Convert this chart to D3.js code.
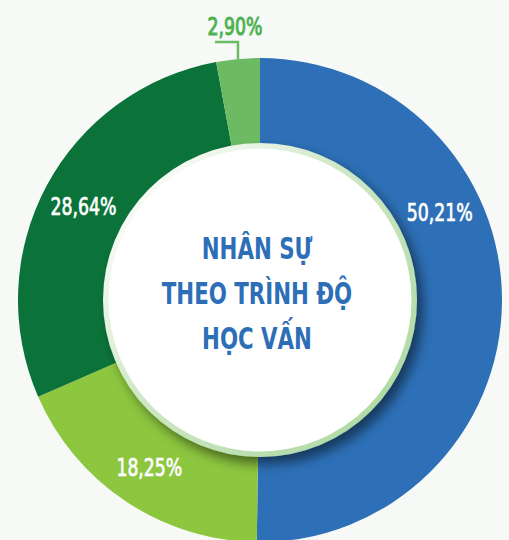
<!DOCTYPE html>
<html>
<head>
<meta charset="utf-8">
<script src="https://cdn.jsdelivr.net/npm/d3@7"></script>
<style>
  html, body { margin: 0; padding: 0; background: #f7f9f7; }
  svg { display: block; }
  text { font-family: "DejaVu Sans Condensed", "DejaVu Sans", sans-serif; }
</style>
</head>
<body>
<div id="chart"></div>
<script>
const categories = ["Đại học", "Cao đẳng", "Trung cấp", "Khác"];
const values = [50.21, 18.25, 28.64, 2.90];
const labels = ["50,21%", "18,25%", "28,64%", "2,90%"];
const titleLines = ["NHÂN SỰ", "THEO TRÌNH ĐỘ", "HỌC VẤN"];

const width = 509, height = 540;
const cx = 260, cy = 300;
const outerR = 242, innerR = 150, discR = 157;
const colors = ["#2d70b7", "#8dc63f", "#0b7339", "#6cbb63"];

const svg = d3.select('#chart')
    .append('svg')
    .attr('width', width)
    .attr('height', height);

const defs = svg.append('defs');
const shadow = defs.append('filter')
    .attr('id', 'shadow')
    .attr('x', '-30%').attr('y', '-30%')
    .attr('width', '160%').attr('height', '160%');
shadow.append('feGaussianBlur').attr('in', 'SourceAlpha').attr('stdDeviation', 6);
shadow.append('feOffset').attr('dx', 6).attr('dy', 7).attr('result', 'off');
shadow.append('feComponentTransfer').append('feFuncA').attr('type', 'linear').attr('slope', 0.5);
const merge = shadow.append('feMerge');
merge.append('feMergeNode');
merge.append('feMergeNode').attr('in', 'SourceGraphic');

const ringGrad = defs.append('linearGradient')
    .attr('id', 'ring')
    .attr('x1', '0%').attr('y1', '20%')
    .attr('x2', '80%').attr('y2', '90%');
ringGrad.append('stop').attr('offset', '0%').attr('stop-color', '#ffffff');
ringGrad.append('stop').attr('offset', '45%').attr('stop-color', '#cfe8c6');
ringGrad.append('stop').attr('offset', '100%').attr('stop-color', '#b3dba7');

const g = svg.append('g').attr('transform', `translate(${cx},${cy})`);

const pie = d3.pie().sort(null).value(d => d);
const arcs = pie(values);
const arc = d3.arc().innerRadius(innerR).outerRadius(outerR);

g.selectAll('path.slice')
    .data(arcs)
    .enter()
    .append('path')
    .attr('class', 'slice')
    .attr('d', arc)
    .attr('fill', (d, i) => colors[i]);

// center disc with ring + shadow
g.append('circle')
    .attr('r', discR)
    .attr('fill', 'url(#ring)')
    .attr('filter', 'url(#shadow)');
g.append('circle')
    .attr('r', discR - 5.5)
    .attr('fill', '#ffffff');

// condensed text helper (no narrow font installed, so squeeze horizontally)
function narrowText(parent, x, y, sx) {
    return parent.append('text')
        .attr('transform', `translate(${x},${y}) scale(${sx},1)`)
        .attr('text-anchor', 'middle');
}

// slice labels (big slice label sits higher up its arc)
const labelArc = d3.arc().innerRadius(158).outerRadius(242);
const labelShift = [0.354, 0.5, 0.5];
arcs.slice(0, 3).forEach((d, i) => {
    const a = d.startAngle + (d.endAngle - d.startAngle) * labelShift[i];
    const p = labelArc.centroid({startAngle: a, endAngle: a});
    narrowText(g, p[0], p[1] + 9, 0.8)
        .attr('fill', '#ffffff')
        .attr('stroke', '#ffffff')
        .attr('stroke-width', 0.7)
        .attr('font-size', 24)
        .text(labels[i]);
});

// small slice callout
const small = arcs[3];
const mid = (small.startAngle + small.endAngle) / 2;
const tip = [Math.sin(mid) * outerR, -Math.cos(mid) * outerR];
g.append('path')
    .attr('d', `M${tip[0]},${tip[1]} V${-258} H${tip[0] - 23}`)
    .attr('fill', 'none')
    .attr('stroke', '#6cbb63')
    .attr('stroke-width', 2.5);
narrowText(g, tip[0] - 3, -265, 0.8)
    .attr('fill', '#4db251')
    .attr('stroke', '#4db251')
    .attr('stroke-width', 1)
    .attr('font-size', 24)
    .text(labels[3]);

// title
titleLines.forEach((t, i) => {
    narrowText(g, -3, -41 + i * 45, 0.79)
        .attr('fill', '#2d6fb7')
        .attr('font-size', 30)
        .attr('font-weight', 'bold')
        .text(t);
});
</script>
</body>
</html>
